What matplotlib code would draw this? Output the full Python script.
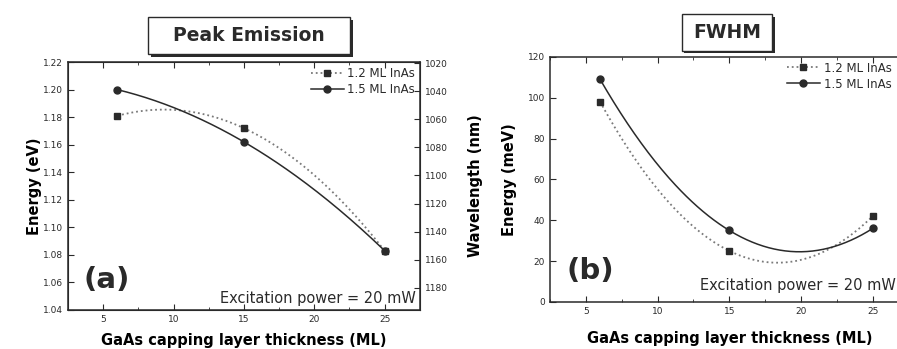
import numpy as np
import matplotlib
matplotlib.use('Agg')
from matplotlib import pyplot as plt
from matplotlib.patches import FancyBboxPatch

# GaAs cap thickness (ML)
thickness = [6, 15, 25]

# peak emission energy (eV)
peak_12 = [1.181, 1.172, 1.083]
peak_15 = [1.200, 1.162, 1.083]

# FWHM (meV)
fwhm_12 = [98, 25, 42]
fwhm_15 = [109, 35, 36]

labels = ['1.2 ML InAs', '1.5 ML InAs']
energy_ticks = [1.04, 1.06, 1.08, 1.10, 1.12, 1.14, 1.16, 1.18, 1.20, 1.22]
wave_ticks = [1020, 1040, 1060, 1080, 1100, 1120, 1140, 1160, 1180]
fwhm_ticks = [0, 20, 40, 60, 80, 100, 120]
x_ticks = [5, 10, 15, 20, 25]

INK = '#2a2a2a'
GREY = '#7a7a7a'

plt.rcParams['font.family'] = ['DejaVu Sans']
plt.rcParams['text.color'] = INK
plt.rcParams['axes.edgecolor'] = INK
plt.rcParams['xtick.color'] = INK
plt.rcParams['ytick.color'] = INK

LABEL_FS = 10.5


def smooth(x, y):
    # quadratic through the three points, used as guide to the eye
    coef = np.polyfit(x, y, 2)
    xs = np.linspace(min(x), max(x), 200)
    return xs, np.polyval(coef, xs)


def style_axis(ax):
    ax.tick_params(direction='in', length=4, width=0.8, labelsize=6.5,
                   top=True, which='major')
    ax.tick_params(direction='in', length=2, width=0.6, top=True, which='minor')
    for s in ax.spines.values():
        s.set_linewidth(1.1)


def boxed_title(fig, x, y, w, h, text):
    # box with a drop shadow on right and bottom
    shadow = FancyBboxPatch((x + 0.003, y - 0.008), w, h, boxstyle='square,pad=0',
                            transform=fig.transFigure, facecolor=INK,
                            edgecolor=INK, lw=0)
    box = FancyBboxPatch((x, y), w, h, boxstyle='square,pad=0',
                         transform=fig.transFigure, facecolor='white',
                         edgecolor=INK, lw=1.0)
    fig.patches.extend([shadow, box])
    fig.text(x + w / 2, y + h / 2, text, ha='center', va='center',
             fontsize=13.5, fontweight='bold')


def plot_pair(ax, y12, y15, legend_x):
    xs, ys = smooth(thickness, y12)
    ax.plot(xs, ys, ':', color=GREY, lw=1.3)
    xs, ys = smooth(thickness, y15)
    ax.plot(xs, ys, '-', color=INK, lw=1.1)
    ax.plot(thickness, y12, 's', color=INK, ms=5, ls='none')
    ax.plot(thickness, y15, 'o', color=INK, ms=5, ls='none')
    # legend proxies
    h1, = ax.plot([], [], ':', color=GREY, lw=1.3, marker='s', ms=5,
                  mfc=INK, mec=INK, label=labels[0])
    h2, = ax.plot([], [], '-', color=INK, lw=1.1, marker='o', ms=5,
                  label=labels[1])
    ax.legend(handles=[h1, h2], loc='upper right', frameon=False, fontsize=8.5,
              handlelength=2.8, handletextpad=0.3, labelspacing=0.25,
              borderaxespad=0.2, borderpad=0.2,
              bbox_to_anchor=(legend_x, 1.0))


def main():
    fig = plt.figure(figsize=(8.97, 3.49), dpi=100)

    # (a) peak emission
    ax1 = fig.add_axes([0.076, 0.112, 0.392, 0.710])
    plot_pair(ax1, peak_12, peak_15, 1.0)
    ax1.set_xlim(2.5, 27.5)
    ax1.set_ylim(1.04, 1.22)
    ax1.set_xticks(x_ticks)
    ax1.set_xticks(np.arange(2.5, 27.6, 2.5), minor=True)
    ax1.set_yticks(energy_ticks)
    ax1.set_yticklabels(['%.2f' % v for v in energy_ticks])
    style_axis(ax1)
    ax1.tick_params(axis='y', right=False, which='both')
    ax1.set_ylabel('Energy (eV)', fontsize=LABEL_FS, fontweight='bold',
                   labelpad=1)
    ax1.set_xlabel('GaAs capping layer thickness (ML)', fontsize=LABEL_FS,
                   fontweight='bold', labelpad=7)
    ax1.text(0.045, 0.065, '(a)', transform=ax1.transAxes, fontsize=21,
             fontweight='bold', va='bottom')
    ax1.text(0.99, 0.015, 'Excitation power = 20 mW', transform=ax1.transAxes,
             fontsize=10.5, ha='right', va='bottom')

    ax1r = ax1.twinx()
    ax1r.set_ylim(1019.3, 1195.7)
    ax1r.invert_yaxis()
    ax1r.set_yticks(wave_ticks)
    ax1r.tick_params(direction='in', length=4, width=0.8, labelsize=6.5)
    ax1r.set_ylabel('Wavelength (nm)', fontsize=LABEL_FS, fontweight='bold',
                    labelpad=15)

    # (b) FWHM
    ax2 = fig.add_axes([0.613, 0.135, 0.400, 0.702])
    plot_pair(ax2, fwhm_12, fwhm_15, 0.965)
    ax2.set_xlim(2.5, 27.5)
    ax2.set_ylim(0, 120)
    ax2.set_xticks(x_ticks)
    ax2.set_xticks(np.arange(2.5, 27.6, 2.5), minor=True)
    ax2.set_yticks(fwhm_ticks)
    style_axis(ax2)
    ax2.set_ylabel('Energy (meV)', fontsize=LABEL_FS, fontweight='bold',
                   labelpad=8)
    ax2.set_xlabel('GaAs capping layer thickness (ML)', fontsize=LABEL_FS,
                   fontweight='bold', labelpad=11)
    ax2.text(0.045, 0.07, '(b)', transform=ax2.transAxes, fontsize=21,
             fontweight='bold', va='bottom')
    ax2.text(0.963, 0.035, 'Excitation power = 20 mW', transform=ax2.transAxes,
             fontsize=10.5, ha='right', va='bottom')

    boxed_title(fig, 0.165, 0.845, 0.225, 0.105, 'Peak Emission')
    boxed_title(fig, 0.760, 0.855, 0.101, 0.105, 'FWHM')

    plt.savefig('out.png', dpi=100)
    plt.close()


if __name__ == '__main__':
    main()
